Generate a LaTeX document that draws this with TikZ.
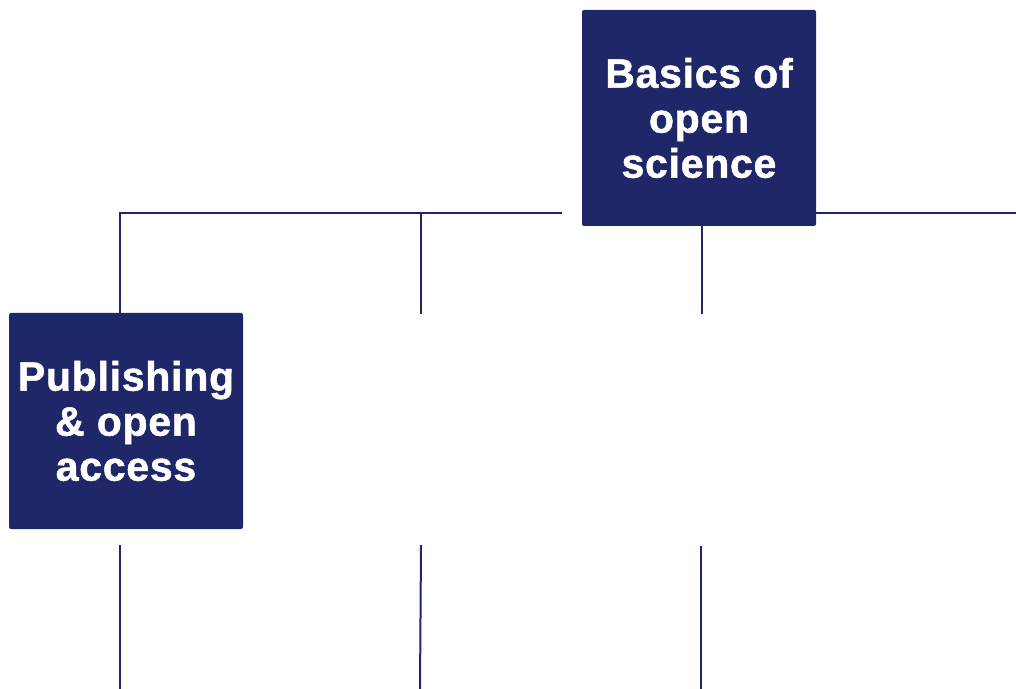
\documentclass[tikz,border=0pt]{standalone}
\usepackage{fontspec}
\setmainfont{Liberation Sans}
\newfontfamily\boxfont{Liberation Sans Bold}[FakeBold=1.2, LetterSpace=1.8]
\definecolor{navy}{HTML}{1F2768}
\tikzset{
  topicbox/.style={fill=navy, text=white, rounded corners=1pt,
    minimum width=117pt, minimum height=108pt, align=center,
    font=\boxfont\fontsize{20.5}{22.5}\selectfont, inner sep=0pt},
  link/.style={draw=navy, line width=1pt}
}

\begin{document}
\begin{tikzpicture}[x=0.5pt,y=-0.5pt]
      \useasboundingbox (0,0) rectangle (1016,689);
      \node[topicbox] (basics) at (699,118) {Basics of\\open\\science};
      \node[topicbox] (publishing) at (126,421) {Publishing\\\& open\\access};
      % branch points
      \coordinate (branchL) at (120,213);
      \coordinate (branchM) at (421,213);
      \coordinate (branchR) at (562,213);
      \coordinate (branchE) at (1016,213);
      \coordinate (midM) at (421,314);
      \coordinate (midR) at (702,314);
      \draw[link] (publishing.north -| branchL) -- (branchL) -- (branchR);
      \draw[link] (branchM) -- (midM);
      \draw[link] (basics.south -| midR) -- (midR);
      \draw[link] (basics.east |- branchE) -- (branchE);
      % lower stubs
      \draw[link] (120,545) -- (120,689);
      \draw[link] (421,545) -- (420,689);
      \draw[link] (701,546) -- (701,689);
    \end{tikzpicture}
\end{document}
